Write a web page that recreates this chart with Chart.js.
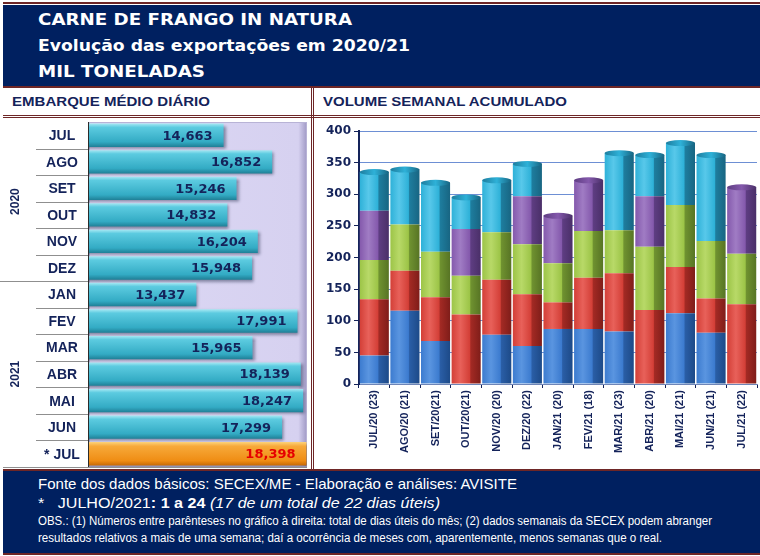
<!DOCTYPE html>
<html>
<head>
<meta charset="utf-8">
<script src="https://cdn.jsdelivr.net/npm/chart.js@4.4.1/dist/chart.umd.min.js"></script>
<style>
  body { margin:0; width:760px; height:556px; position:relative; overflow:hidden; background:#fff;
         font-family:"Liberation Sans", Arial, sans-serif; }
  .abs { position:absolute; }
  .line { position:absolute; background:#6e2626; }
  #head { left:3px; top:5px; width:757px; height:81px; background:#002060; }
  .ttl { position:absolute; left:38px; color:#fff; font:bold 16px "DejaVu Sans", Verdana, sans-serif;
         white-space:nowrap; transform-origin:left center; }
  .sub { position:absolute; top:94px; color:#14235a; font:bold 13px "Liberation Sans", Arial, sans-serif;
         white-space:nowrap; transform-origin:left center; }
  #foot { left:3px; top:471px; width:757px; height:82px; background:#002060; }
  .ft { position:absolute; left:38px; color:#fff; white-space:nowrap; transform-origin:left center;
        font-family:"Liberation Sans Narrow", "Arial Narrow", "Liberation Sans", Arial, sans-serif; }
  canvas { display:block; }
</style>
</head>
<body>
<div class="line" style="left:3px;top:2px;width:757px;height:2px"></div>
<div id="head" class="abs"></div>
<div class="ttl" style="top:10px" data-w="314">CARNE DE FRANGO IN NATURA</div>
<div class="ttl" style="top:36px" data-w="372">Evolução das exportações em 2020/21</div>
<div class="ttl" style="top:62px" data-w="167">MIL TONELADAS</div>
<div class="line" style="left:3px;top:86px;width:757px;height:2px"></div>

<div class="sub" style="left:12px" data-w="198">EMBARQUE MÉDIO DIÁRIO</div>
<div class="sub" style="left:323px" data-w="244">VOLUME SEMANAL ACUMULADO</div>
<div class="line" style="left:3px;top:115px;width:757px;height:1px"></div>
<div class="line" style="left:3px;top:117px;width:757px;height:1px"></div>
<div class="line" style="left:311px;top:88px;width:1px;height:381px"></div>
<div class="line" style="left:313px;top:88px;width:1px;height:381px"></div>

<div class="abs" style="left:0;top:118px;width:310px;height:352px"><canvas id="dailyChart" width="310" height="352"></canvas></div>
<div class="abs" style="left:314px;top:118px;width:446px;height:352px"><canvas id="weekChart" width="446" height="352"></canvas></div>

<div class="line" style="left:3px;top:469px;width:757px;height:2px"></div>
<div id="foot" class="abs"></div>
<div class="ft" style="top:475px;font-size:15px" data-w="479">Fonte dos dados básicos: SECEX/ME - Elaboração e análises: AVISITE</div>
<div class="ft" style="top:494px;font-size:15px" data-w="402">*&nbsp;&nbsp; JULHO/2021<b>: 1 a 24</b> <i>(17 de um total de 22 dias úteis)</i></div>
<div class="ft" style="top:514px;font-size:12px" data-w="674">OBS.: (1) Números entre parênteses no gráfico à direita: total de dias úteis do mês; (2) dados semanais da SECEX podem abranger</div>
<div class="ft" style="top:531px;font-size:12px" data-w="624">resultados relativos a mais de uma semana; daí a ocorrência de meses com, aparentemente, menos semanas que o real.</div>
<div class="line" style="left:3px;top:553px;width:757px;height:2px"></div>

<script>
// Embarque médio diário (t/dia)
const months = ['JUL','AGO','SET','OUT','NOV','DEZ','JAN','FEV','MAR','ABR','MAI','JUN','* JUL'];
const dailyAvg = [14663,16852,15246,14832,16204,15948,13437,17991,15965,18139,18247,17299,18398];
const yearLabels = ['2020','2021'];
const yearFirstRow = [0, 6];

// Volume semanal acumulado (mil t) - uma série por semana
const weekLabels = ['JUL/20 (23)','AGO/20 (21)','SET/20(21)','OUT/20(21)','NOV/20 (20)','DEZ/20 (22)',
  'JAN/21 (20)','FEV/21 (18)','MAR/21 (23)','ABR/21 (20)','MAI/21 (21)','JUN/21 (21)','JUL/21 (22)'];
const week1 = [45,116,68,0,78,60,87,87,83,0,112,81,0];
const week2 = [89,63,69,110,87,82,42,81,92,117,73,54,126];
const week3 = [62,73,72,61,75,79,62,74,68,100,98,91,80];
const week4 = [78,0,0,74,0,76,75,80,0,80,0,0,105];
const week5 = [61,87,109,50,82,51,0,0,122,65,98,136,0];
const volTicks = [0,50,100,150,200,250,300,350,400];

const NAVY = '#14235a';

// ---------- esquerda: barras horizontais ----------
function barFill(ctx) {
  const ys = ctx.chart.scales.y;
  const i = ctx.dataIndex;
  const last = i === months.length - 1;
  if (!ys || i === undefined) return last ? '#f29a22' : '#3fb5cc';
  const cy = ys.getPixelForValue(i);
  const h = ys.height / months.length * 0.88;
  if (!isFinite(cy) || !isFinite(h) || h <= 0) return last ? '#f29a22' : '#3fb5cc';
  const g = ctx.chart.ctx.createLinearGradient(0, cy - h / 2, 0, cy + h / 2);
  if (last) {
    g.addColorStop(0, '#fcd27a'); g.addColorStop(0.18, '#f7a93a');
    g.addColorStop(0.8, '#ef8d14'); g.addColorStop(1, '#c86a06');
  } else {
    g.addColorStop(0, '#a6e8f3'); g.addColorStop(0.16, '#5ccbe0');
    g.addColorStop(0.78, '#33abc4'); g.addColorStop(1, '#1f7f96');
  }
  return g;
}

const dailyDecor = {
  id: 'dailyDecor',
  beforeDatasetsDraw(chart) {
    const { ctx, chartArea: a } = chart;
    ctx.save();
    const bg = ctx.createLinearGradient(a.left, 0, a.right, 0);
    bg.addColorStop(0, '#dcd8f4'); bg.addColorStop(0.96, '#d6d1f0'); bg.addColorStop(1, '#9f98c4');
    ctx.fillStyle = bg;
    ctx.fillRect(a.left, a.top, a.right - a.left, a.bottom - a.top);
    ctx.strokeStyle = '#b8b3d6'; ctx.lineWidth = 1;
    ctx.strokeRect(a.left + 0.5, a.top + 0.5, a.right - a.left - 1, a.bottom - a.top - 1);
    ctx.restore();
    ctx.save();
    ctx.shadowColor = 'rgba(20,30,60,0.45)';
    ctx.shadowOffsetX = 2; ctx.shadowOffsetY = 2; ctx.shadowBlur = 3;
  },
  afterDatasetsDraw(chart) {
    const { ctx, chartArea: a, scales } = chart;
    ctx.restore();
    const ys = scales.y;
    const meta = chart.getDatasetMeta(0);
    ctx.save();
    // valores
    ctx.font = 'bold 13px "DejaVu Sans", Verdana, sans-serif';
    ctx.textAlign = 'right'; ctx.textBaseline = 'middle';
    meta.data.forEach((bar, i) => {
      ctx.fillStyle = i === months.length - 1 ? '#e60000' : NAVY;
      ctx.fillText(dailyAvg[i].toLocaleString('en-US'), bar.x - 11, bar.y + 1);
    });
    // coluna de rótulos
    const step = ys.height / months.length;
    ctx.strokeStyle = '#8f8f8f'; ctx.lineWidth = 1;
    for (let i = 1; i < months.length; i++) {
      const y = Math.round(ys.getPixelForValue(i) - step / 2) + 0.5;
      ctx.beginPath();
      ctx.moveTo(yearFirstRow.includes(i) ? 0 : 36, y); ctx.lineTo(a.left, y); ctx.stroke();
    }
    ctx.beginPath(); ctx.moveTo(3, a.bottom + 0.5); ctx.lineTo(a.right, a.bottom + 0.5); ctx.stroke();
    ctx.strokeStyle = '#2b2b2b';
    ctx.beginPath(); ctx.moveTo(a.left - 0.5, a.top); ctx.lineTo(a.left - 0.5, a.bottom); ctx.stroke();
    ctx.fillStyle = NAVY;
    ctx.font = 'bold 14px "Liberation Sans", Arial, sans-serif';
    ctx.textAlign = 'center';
    months.forEach((m, i) => ctx.fillText(m, 62, ys.getPixelForValue(i) + 1));
    ctx.font = 'bold 12px "Liberation Sans", Arial, sans-serif';
    yearLabels.forEach((yl, k) => {
      const from = yearFirstRow[k];
      const to = k + 1 < yearFirstRow.length ? yearFirstRow[k + 1] - 1 : months.length - 1;
      const cy = (ys.getPixelForValue(from) + ys.getPixelForValue(to)) / 2;
      ctx.save(); ctx.translate(16, cy); ctx.rotate(-Math.PI / 2);
      ctx.fillText(yl, 0, 0); ctx.restore();
    });
    ctx.restore();
  }
};

new Chart(document.getElementById('dailyChart'), {
  type: 'bar',
  data: { labels: months, datasets: [{ data: dailyAvg, backgroundColor: barFill,
    borderSkipped: false, categoryPercentage: 0.88, barPercentage: 1 }] },
  options: {
    indexAxis: 'y', responsive: false, animation: false, events: [],
    layout: { padding: { top: 4, bottom: 3, right: 3, left: 0 } },
    plugins: { legend: { display: false }, tooltip: { enabled: false } },
    scales: {
      x: { display: false, min: 8600, max: 18420 },
      y: { ticks: { display: false }, grid: { display: false }, border: { display: false },
           afterFit(s) { s.width = 89; } }
    }
  },
  plugins: [dailyDecor]
});

// ---------- direita: colunas empilhadas ----------
const palette = [
  ['#5a95e0', '#3c7bcf', '#2a5ea6', '#1d4a88'],
  ['#e8615a', '#d33f37', '#a32a24', '#7f1d19'],
  ['#b8d968', '#9cc447', '#6f9230', '#577424'],
  ['#a07cc4', '#8459ac', '#5e3d82', '#4a2f68'],
  ['#58c8ea', '#2eb1d8', '#1e7d9e', '#186582']
];

function cylGradient(c, ctx2d, cx, w) {
  const g = ctx2d.createLinearGradient(cx - w / 2, 0, cx + w / 2, 0);
  g.addColorStop(0, c[1]); g.addColorStop(0.3, c[0]); g.addColorStop(0.62, c[1]);
  g.addColorStop(0.66, c[2]); g.addColorStop(1, c[3]);
  return g;
}

function cylFill(k) {
  return ctx => {
    const xs = ctx.chart.scales.x;
    const i = ctx.dataIndex;
    const c = palette[k];
    if (!xs || i === undefined) return c[1];
    const cx = xs.getPixelForValue(i);
    const w = xs.width / weekLabels.length * 0.95;
    if (!isFinite(cx) || !isFinite(w) || w <= 0) return c[1];
    return cylGradient(c, ctx.chart.ctx, cx, w);
  };
}

// tampa elíptica no topo de cada coluna
const cylinderCaps = {
  id: 'cylinderCaps',
  afterDatasetsDraw(chart) {
    const ctx = chart.ctx;
    ctx.save();
    weekLabels.forEach((_, i) => {
      let top = -1;
      chart.data.datasets.forEach((ds, k) => { if (ds.data[i] > 0) top = k; });
      if (top < 0) return;
      const bar = chart.getDatasetMeta(top).data[i];
      const c = palette[top];
      const g = ctx.createLinearGradient(bar.x - bar.width / 2, 0, bar.x + bar.width / 2, 0);
      g.addColorStop(0, c[2]); g.addColorStop(0.5, c[1]); g.addColorStop(1, c[3]);
      ctx.fillStyle = g;
      ctx.beginPath();
      ctx.ellipse(bar.x, bar.y, bar.width / 2, 3, 0, 0, Math.PI * 2);
      ctx.fill();
    });
    ctx.restore();
  }
};

const weekSeries = [week1, week2, week3, week4, week5];

new Chart(document.getElementById('weekChart'), {
  type: 'bar',
  data: {
    labels: weekLabels,
    datasets: weekSeries.map((s, k) => ({
      label: 'Semana ' + (k + 1), data: s, backgroundColor: cylFill(k),
      categoryPercentage: 1, barPercentage: 0.95, borderWidth: 0
    }))
  },
  options: {
    responsive: false, animation: false, events: [],
    layout: { padding: { top: 13, right: 3, left: 0, bottom: 0 } },
    plugins: { legend: { display: false }, tooltip: { enabled: false } },
    scales: {
      x: {
        stacked: true,
        grid: { display: true, drawOnChartArea: false, offset: true, tickLength: 4, color: NAVY },
        border: { display: true, color: '#6f86b8' },
        ticks: { minRotation: 90, maxRotation: 90, padding: 2, color: NAVY,
                 font: { family: '"Liberation Sans Narrow", "Arial Narrow", "Liberation Sans", Arial, sans-serif',
                         size: 11, weight: 'bold' } },
        afterFit(s) { s.height = 86; }
      },
      y: {
        stacked: true, min: 0, max: 400,
        afterBuildTicks(s) { s.ticks = volTicks.map(v => ({ value: v })); },
        grid: { color: '#6d8fd4', tickLength: 5, tickColor: NAVY },
        border: { display: true, color: NAVY, width: 2 },
        ticks: { padding: 3, color: NAVY, font: { family: '"DejaVu Sans", Verdana, sans-serif', size: 12, weight: 'bold' } },
        afterFit(s) { s.width = 45; }
      }
    }
  },
  plugins: [cylinderCaps]
});

// ajuste de largura dos textos fixos
document.querySelectorAll('[data-w]').forEach(el => {
  const w = el.getBoundingClientRect().width;
  el.style.transform = 'scaleX(' + (parseFloat(el.dataset.w) / w) + ')';
});
</script>
</body>
</html>
